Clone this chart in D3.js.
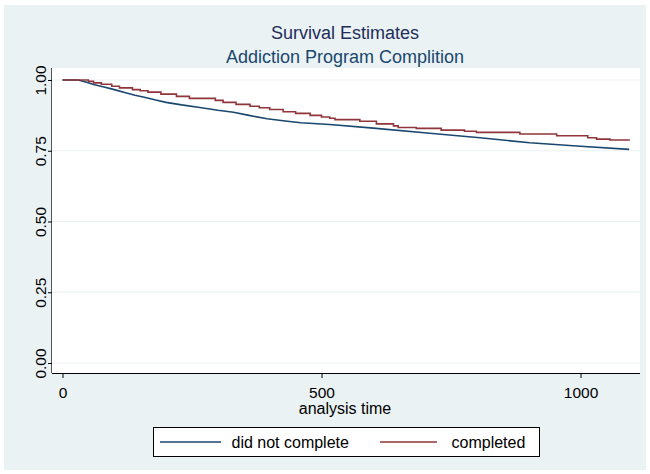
<!DOCTYPE html>
<html>
<head>
<meta charset="utf-8">
<script src="https://cdn.jsdelivr.net/npm/d3@7"></script>
<style>
  body { margin: 0; background: #fff; }
  text { font-family: "Liberation Sans", Arial, sans-serif; }
</style>
</head>
<body>
<svg id="chart"></svg>
<script>
// Kaplan-Meier estimates
const timesNot = [0, 30, 45, 60, 80, 100, 120, 140, 160, 180, 200, 230, 265, 300, 330, 360, 395, 430, 460, 516, 600, 709, 806, 902, 1000, 1094];
const survNot = [1.0, 1.0, 0.993, 0.984, 0.975, 0.966, 0.956, 0.946, 0.938, 0.929, 0.921, 0.912, 0.903, 0.893, 0.886, 0.875, 0.863, 0.855, 0.849, 0.843, 0.830, 0.812, 0.796, 0.778, 0.766, 0.755];

const timesComp = [0, 35, 50, 60, 75, 95, 110, 135, 150, 165, 190, 220, 245, 295, 310, 335, 362, 380, 400, 426, 450, 478, 500, 516, 526, 574, 606, 639, 648, 683, 731, 776, 799, 883, 954, 1014, 1031, 1057, 1094];
const survComp = [1.0, 1.0, 0.995, 0.99, 0.985, 0.978, 0.972, 0.966, 0.962, 0.957, 0.950, 0.942, 0.935, 0.928, 0.921, 0.914, 0.907, 0.902, 0.896, 0.888, 0.882, 0.875, 0.869, 0.865, 0.860, 0.854, 0.845, 0.838, 0.832, 0.829, 0.823, 0.819, 0.815, 0.809, 0.803, 0.796, 0.791, 0.788, 0.786];

const xTicks = [0, 500, 1000];
const yTicks = [0, 0.25, 0.5, 0.75, 1];
const seriesNames = ["did not complete", "completed"];
const seriesColors = ["#1a476f", "#90353b"];

let svg = d3.select("#chart").attr("width", 650).attr("height", 474);

svg.append("rect").attr("x", 4).attr("y", 5).attr("width", 642).attr("height", 465)
    .attr("fill", "#eaf2f3");

// plot region
let plot = {left: 52, right: 640, top: 68, bottom: 373};
svg.append("rect")
    .attr("x", plot.left).attr("y", plot.top)
    .attr("width", plot.right - plot.left).attr("height", plot.bottom - plot.top)
    .attr("fill", "#fff");

let x = d3.scaleLinear().domain([0, 1000]).range([62.5, 580.5]);
let y = d3.scaleLinear().domain([0, 1]).range([363, 80]);

// gridlines
svg.append("g").selectAll("line")
    .data(yTicks)
    .join("line")
    .attr("x1", plot.left).attr("x2", plot.right)
    .attr("y1", d => y(d)).attr("y2", d => y(d))
    .attr("stroke", "#eaf2f3").attr("stroke-width", 1);

// axes
let xAxis = svg.append("g")
    .attr("transform", "translate(0," + plot.bottom + ")")
    .call(d3.axisBottom(x).tickValues(xTicks).tickFormat(d3.format("d")).tickSizeOuter(0).tickSize(5));
xAxis.select(".domain").attr("d", "M" + plot.left + ",0.5H" + plot.right).attr("stroke", "#000");
xAxis.selectAll(".tick line").attr("stroke", "#000");
xAxis.selectAll("text").attr("font-size", 15.5).attr("fill", "#000")
    .attr("dy", null).attr("y", 25)
    .style("font-family", "Liberation Sans, Arial, sans-serif");

let yAxis = svg.append("g")
    .attr("transform", "translate(" + plot.left + ",0)")
    .call(d3.axisLeft(y).tickValues(yTicks).tickFormat(d3.format(".2f")).tickSizeOuter(0).tickSize(4));
yAxis.select(".domain").attr("d", "M-0.5," + plot.top + "V" + plot.bottom).attr("stroke", "#555");
yAxis.selectAll(".tick line").attr("stroke", "#000");
yAxis.selectAll("text")
    .attr("font-size", 15.5).attr("fill", "#000")
    .attr("x", null).attr("dy", null)
    .attr("text-anchor", "middle")
    .attr("transform", "translate(-6,0) rotate(-90)")
    .style("font-family", "Liberation Sans, Arial, sans-serif");

svg.append("text")
    .attr("x", 345).attr("y", 414)
    .attr("text-anchor", "middle").attr("font-size", 16)
    .text("analysis time");

// curves: the larger group has many tiny steps, so it reads as a smooth line
let stepLine = d3.line()
    .x(d => x(d[0]))
    .y(d => y(d[1]))
    .curve(d3.curveStepAfter);
let smoothLine = d3.line()
    .x(d => x(d[0]))
    .y(d => y(d[1]));

let series = [d3.zip(timesNot, survNot), d3.zip(timesComp, survComp)];
svg.append("g").selectAll("path")
    .data(series)
    .join("path")
    .attr("fill", "none")
    .attr("stroke", (d, i) => seriesColors[i])
    .attr("stroke-width", 1.6)
    .attr("d", (d, i) => i == 0 ? smoothLine(d) : stepLine(d));

// titles
svg.append("text").attr("x", 345).attr("y", 39)
    .attr("text-anchor", "middle").attr("font-size", 18).attr("fill", "#1e2d5a")
    .text("Survival Estimates");
svg.append("text").attr("x", 345).attr("y", 63)
    .attr("text-anchor", "middle").attr("font-size", 18).attr("fill", "#1a476f")
    .text("Addiction Program Complition");

// legend
let legend = svg.append("g");
legend.append("rect").attr("x", 153.5).attr("y", 427.5).attr("width", 386).attr("height", 29)
    .attr("fill", "#fff").attr("stroke", "#000");
let legendX = [[160, 221, 231.5], [380, 437, 451.5]];
seriesNames.forEach((name, i) => {
    legend.append("line")
        .attr("x1", legendX[i][0]).attr("x2", legendX[i][1])
        .attr("y1", 442).attr("y2", 442)
        .attr("stroke", seriesColors[i]).attr("stroke-width", 1.6);
    legend.append("text")
        .attr("x", legendX[i][2]).attr("y", 447.5)
        .attr("font-size", 16)
        .text(name);
});
</script>
</body>
</html>
